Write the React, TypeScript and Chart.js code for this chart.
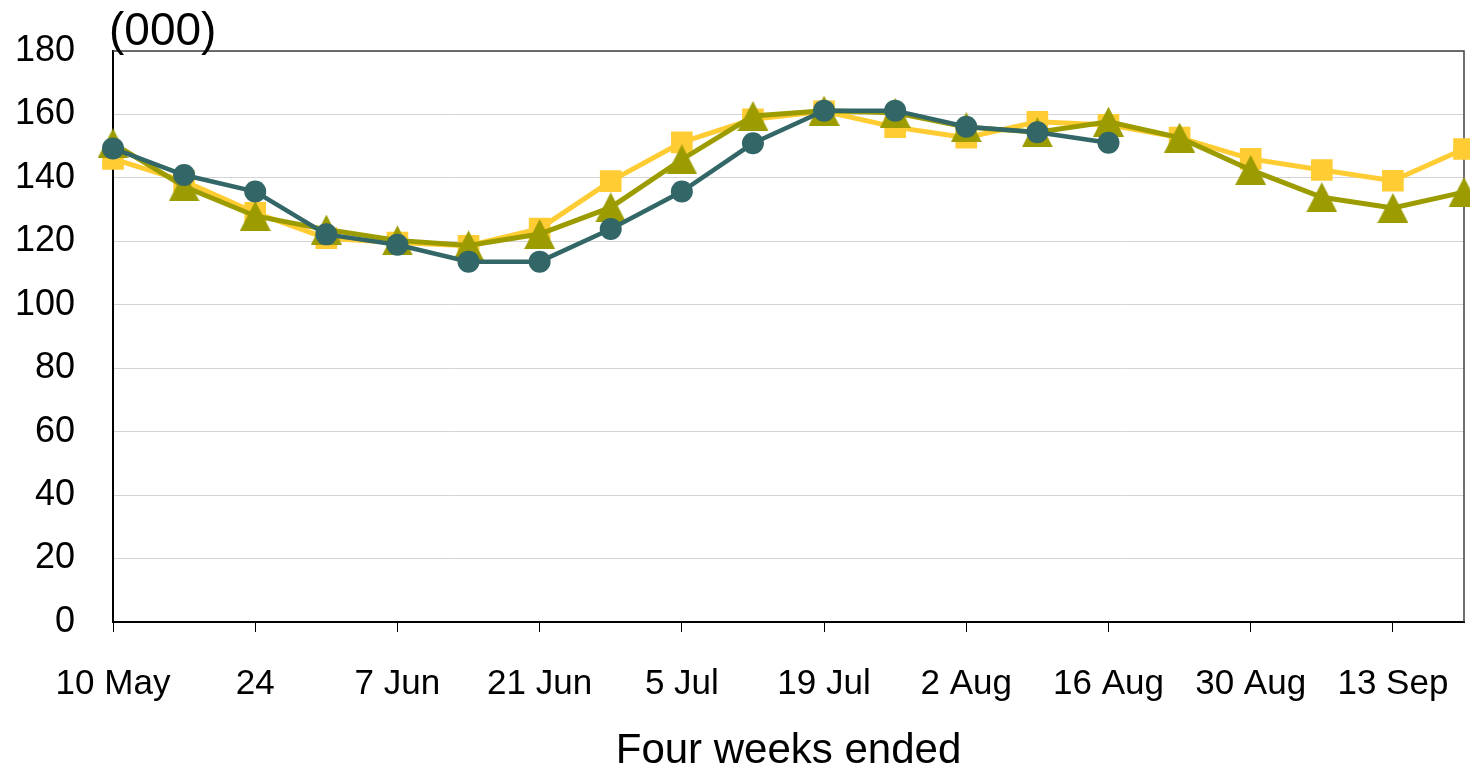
import React, { useEffect, useRef } from "react";
import { Chart, registerables } from "chart.js";

Chart.register(...registerables);

const categories = [
  "10 May", "17 May", "24 May", "31 May", "7 Jun", "14 Jun", "21 Jun", "28 Jun",
  "5 Jul", "12 Jul", "19 Jul", "26 Jul", "2 Aug", "9 Aug", "16 Aug", "23 Aug",
  "30 Aug", "6 Sep", "13 Sep", "20 Sep",
];
const tickLabels = [
  "10 May", "", "24", "", "7 Jun", "", "21 Jun", "", "5 Jul", "", "19 Jul", "",
  "2 Aug", "", "16 Aug", "", "30 Aug", "", "13 Sep", "",
];
const seriesSquares = [
  146, 139, 129, 121, 119.6, 118.6, 124, 139, 151.2, 158.5, 161, 156, 152.7,
  157.7, 156.7, 152.7, 146, 142.5, 139.1, 149.1,
];
const seriesTriangles = [
  150.9, 137.3, 128, 123.7, 120.3, 118.7, 122.3, 130.7, 145.8, 159.5, 161.2,
  160.5, 156, 154.4, 157.7, 152.7, 142.5, 133.9, 130.5, 135.5,
];
const seriesCircles = [
  149.3, 140.9, 135.7, 122.2, 118.9, 113.6, 113.6, 123.9, 135.7, 150.9, 161.2,
  161.2, 156.1, 154.4, 151.1, null, null, null, null, null,
];
const yTicks = [0, 20, 40, 60, 80, 100, 120, 140, 160, 180];

const FONT = "'Liberation Sans', Arial, sans-serif";

function makeTriangle(color: string) {
  const c = document.createElement("canvas");
  c.width = 31;
  c.height = 30;
  const ctx = c.getContext("2d")!;
  ctx.fillStyle = color;
  ctx.beginPath();
  ctx.moveTo(15.5, 0);
  ctx.lineTo(31, 30);
  ctx.lineTo(0, 30);
  ctx.closePath();
  ctx.fill();
  return c;
}

function zeroPadding(scale: any) {
  scale.paddingLeft = 0;
  scale.paddingRight = 0;
  scale.paddingTop = 0;
  scale.paddingBottom = 0;
}

const framePlugin = {
  id: "frame",
  beforeDatasetsDraw(chart: any) {
    const { ctx, chartArea } = chart;
    ctx.save();
    ctx.strokeStyle = "#404040";
    ctx.lineWidth = 1.5;
    ctx.beginPath();
    ctx.moveTo(chartArea.left, chartArea.top);
    ctx.lineTo(chartArea.right, chartArea.top);
    ctx.lineTo(chartArea.right, chartArea.bottom);
    ctx.stroke();
    ctx.restore();
  },
  afterDraw(chart: any) {
    const { ctx } = chart;
    ctx.save();
    ctx.fillStyle = "#000";
    ctx.font = `46px ${FONT}`;
    ctx.textAlign = "left";
    ctx.textBaseline = "alphabetic";
    ctx.fillText("(000)", 109, 45);
    ctx.restore();
  },
};

export default function App() {
  const ref = useRef<HTMLCanvasElement | null>(null);
  useEffect(() => {
    if (!ref.current) return;
    const tri = makeTriangle("#9C9C00");
    const chart = new Chart(ref.current, {
      type: "line",
      data: {
        labels: categories,
        datasets: [
          {
            label: "Circles",
            data: seriesCircles,
            borderColor: "#336666",
            backgroundColor: "#336666",
            borderWidth: 4.5,
            pointStyle: "circle",
            pointRadius: 11,
            pointBorderWidth: 0,
            pointBackgroundColor: "#336666",
            tension: 0,
            spanGaps: false,
          },
          {
            label: "Triangles",
            data: seriesTriangles,
            borderColor: "#9C9C00",
            backgroundColor: "#9C9C00",
            borderWidth: 5,
            pointStyle: tri as any,
            pointRadius: 15,
            pointBorderWidth: 0,
            tension: 0,
          },
          {
            label: "Squares",
            data: seriesSquares,
            borderColor: "#FFCC33",
            backgroundColor: "#FFCC33",
            borderWidth: 5,
            pointStyle: "rect",
            pointRadius: 15.3,
            pointBorderWidth: 0,
            pointBackgroundColor: "#FFCC33",
            tension: 0,
          },
        ],
      },
      options: {
        responsive: false,
        animation: false,
        layout: { autoPadding: false, padding: { top: 51, right: 6, left: 0, bottom: 0 } },
        plugins: { legend: { display: false }, tooltip: { enabled: false } },
        scales: {
          x: {
            offset: false,
            afterFit(scale: any) {
              scale.height = 147;
              zeroPadding(scale);
            },
            grid: {
              drawOnChartArea: false,
              drawTicks: true,
              tickLength: 10,
              tickColor: (ctx: any) => (tickLabels[ctx.index] ? "#000" : "rgba(0,0,0,0)"),
              tickWidth: 1,
            },
            border: { color: "#000", width: 2 },
            ticks: {
              autoSkip: false,
              maxRotation: 0,
              minRotation: 0,
              padding: 31,
              color: "#000",
              font: { family: FONT, size: 35 },
              callback: (_v: any, i: number) => tickLabels[i],
            },
            title: {
              display: true,
              text: "Four weeks ended",
              color: "#000",
              font: { family: FONT, size: 42, lineHeight: 0.8 },
              padding: { top: 0, bottom: 1 },
            },
          },
          y: {
            min: 0,
            max: 180,
            afterFit(scale: any) {
              scale.width = 113;
              zeroPadding(scale);
            },
            afterBuildTicks(scale: any) {
              scale.ticks = yTicks.map((v) => ({ value: v }));
            },
            grid: {
              color: "#D4D4D4",
              lineWidth: 1,
              drawTicks: false,
            },
            border: { color: "#000", width: 2 },
            ticks: {
              padding: 38,
              color: "#000",
              font: { family: FONT, size: 36 },
            },
          },
        },
      },
      plugins: [framePlugin],
    });
    return () => chart.destroy();
  }, []);
  return (
    <div style={{ position: "fixed", left: 0, top: 0, width: 1470, height: 769, background: "#fff" }}>
      <canvas ref={ref} width={1470} height={769} />
    </div>
  );
}
